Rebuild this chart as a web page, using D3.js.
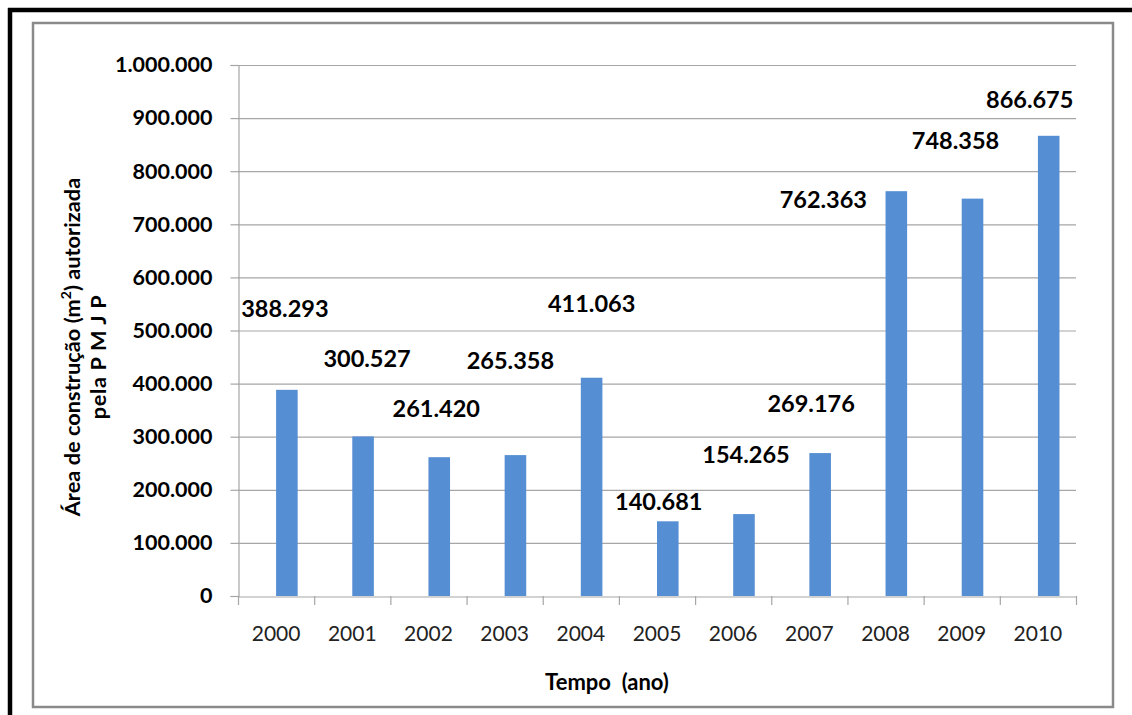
<!DOCTYPE html>
<html>
<head>
<meta charset="utf-8">
<script src="https://cdn.jsdelivr.net/npm/d3@7"></script>
<style>
  html, body { margin: 0; padding: 0; background: #fff; }
  svg { display: block; font-family: Lato, "Open Sans", sans-serif; }
</style>
</head>
<body>
<svg id="chart" width="1132" height="715"></svg>
<script>
// Área de construção autorizada por ano (m²)
const years = ["2000", "2001", "2002", "2003", "2004", "2005", "2006", "2007", "2008", "2009", "2010"];
const areas = [388293, 300527, 261420, 265358, 411063, 140681, 154265, 269176, 762363, 748358, 866675];
const yTicks = [0, 100000, 200000, 300000, 400000, 500000, 600000, 700000, 800000, 900000, 1000000];

// Hand-placed value labels: offset (px) from the top-centre of each bar
const labelNudge = [
  [-2, -73], [4, -69], [-3, -40], [-5, -86], [0, -66], [-9, -11],
  [2, -51], [-9, -41], [-73, 17], [-17, -50], [-19, -28]
];

const svg = d3.select("#chart");
const W = 1132, H = 715;
const margin = { left: 238, right: 1076, top: 65, bottom: 596 };

// Number format with dots as thousands separator
const ptBR = d3.formatLocale({ decimal: ",", thousands: ".", grouping: [3], currency: ["R$", ""] });
const fmt = ptBR.format(",d");

// Outer frame (thick black lines on top and left)
svg.append("line").attr("x1", 8).attr("x2", W).attr("y1", 10).attr("y2", 10)
  .attr("stroke", "#000").attr("stroke-width", 4.5);
svg.append("line").attr("x1", 10).attr("x2", 10).attr("y1", 8).attr("y2", H)
  .attr("stroke", "#000").attr("stroke-width", 4.5);

// Chart area border
svg.append("rect").attr("x", 33).attr("y", 23).attr("width", 1080).attr("height", 684)
  .attr("fill", "#fff").attr("stroke", "#8a8a8a").attr("stroke-width", 2.5);

const x = d3.scaleBand().domain(years).range([margin.left, margin.right]).paddingInner(0).paddingOuter(0);
const y = d3.scaleLinear().domain([0, 1000000]).range([margin.bottom, margin.top]);

// Gridlines
svg.append("g").selectAll("line").data(yTicks.filter(d => d > 0)).join("line")
  .attr("x1", margin.left).attr("x2", margin.right)
  .attr("y1", d => y(d) + 0.5).attr("y2", d => y(d) + 0.5)
  .attr("stroke", "#a6a6a6").attr("stroke-width", 1.2);

// Y axis
const yAxis = svg.append("g").attr("transform", `translate(${margin.left + 0.5},0)`)
  .call(d3.axisLeft(y).tickValues(yTicks).tickFormat(fmt).tickSize(8).tickPadding(18));
yAxis.select(".domain").attr("stroke", "#a6a6a6").attr("stroke-width", 1.2);
yAxis.selectAll(".tick line").attr("stroke", "#a6a6a6").attr("stroke-width", 1.2);
yAxis.selectAll(".tick text")
  .attr("fill", "#000").attr("font-size", 21.5).attr("font-weight", 700)
  .attr("font-family", "Lato, sans-serif");

// Bars: each sits in the right half of its year slot
const barW = x.bandwidth() / 3.53;
svg.append("g").selectAll("rect").data(areas).join("rect")
  .attr("x", (d, i) => x(years[i]) + x.bandwidth() / 2)
  .attr("y", d => y(d))
  .attr("width", barW)
  .attr("height", d => y(0) - y(d))
  .attr("fill", "#568ed4");

// X axis
const xAxis = svg.append("g").attr("transform", `translate(0,${margin.bottom + 0.5})`)
  .call(d3.axisBottom(x).tickSize(0).tickPadding(30));
xAxis.select(".domain").attr("stroke", "#a6a6a6").attr("stroke-width", 1.2);
xAxis.selectAll(".tick text")
  .attr("fill", "#222").attr("font-size", 21).attr("font-weight", 400)
  .attr("font-family", "Lato, sans-serif");
// Category boundary ticks
const bounds = years.map(d => x(d)).concat([margin.right]);
svg.append("g").selectAll("line").data(bounds).join("line")
  .attr("x1", d => d + 0.5).attr("x2", d => d + 0.5)
  .attr("y1", margin.bottom).attr("y2", margin.bottom + 9)
  .attr("stroke", "#a6a6a6").attr("stroke-width", 1.2);

// Value labels
svg.append("g").selectAll("text").data(areas).join("text")
  .attr("x", (d, i) => x(years[i]) + x.bandwidth() / 2 + barW / 2 + labelNudge[i][0])
  .attr("y", (d, i) => y(d) + labelNudge[i][1])
  .attr("text-anchor", "middle")
  .attr("font-size", 23.5).attr("font-weight", 700).attr("fill", "#000")
  .text(d => fmt(d));

// X axis title
svg.append("text").attr("x", 607).attr("y", 690)
  .attr("text-anchor", "middle").attr("font-size", 22).attr("font-weight", 700)
  .style("white-space", "pre")
  .text("Tempo\u00a0\u00a0(ano)");

// Y axis title (two lines, rotated)
const yt = svg.append("text")
  .attr("transform", "translate(80,347) rotate(-90)")
  .attr("text-anchor", "middle").attr("font-size", 21.8).attr("font-weight", 700);
const l1 = yt.append("tspan").attr("x", 0).attr("y", 0);
l1.append("tspan").text("Área de construção (m");
l1.append("tspan").attr("font-size", 14).attr("dy", -9).text("2");
l1.append("tspan").attr("dy", 9).text(") autorizada");
yt.append("tspan").attr("x", -10).attr("y", 26).attr("letter-spacing", 0.6)
  .text("pela P M J P");
</script>
</body>
</html>
